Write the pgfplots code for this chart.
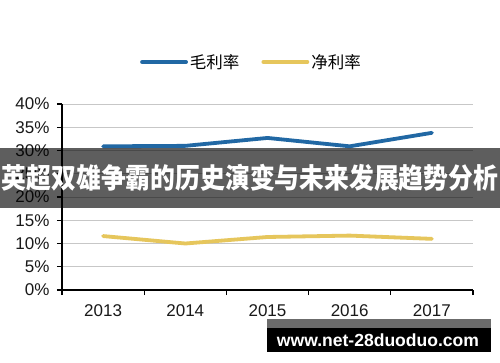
\documentclass[border=0pt]{standalone}
\usepackage{graphicx}
\usepackage{pgfplots}
\pgfplotsset{compat=1.18}
\usepackage{fontspec}
\setmainfont{Liberation Sans}
\newfontfamily\cjk{Noto Sans CJK SC}
\definecolor{gm}{RGB}{33,104,164}
\definecolor{nm}{RGB}{230,198,92}
\begin{document}
\begin{tikzpicture}[x=1pt,y=1pt]
\useasboundingbox (0,0) rectangle (500,362);
\fill[white] (0,0) rectangle (500,362);
\begin{axis}[
  at={(62pt,72pt)}, anchor=south west,
  scale only axis, width=411pt, height=186pt,
  xmin=-0.5, xmax=4.5, ymin=0, ymax=40,
  axis x line*=bottom, axis y line*=left,
  axis line style={line width=1.3pt, black, -},
  xtick={-0.5,0.5,1.5,2.5,3.5,4.5}, x tick label as interval,
  xticklabels={2013,2014,2015,2016,2017},
  ytick={0,5,...,40},
  yticklabels={0\%,5\%,10\%,15\%,20\%,25\%,30\%,35\%,40\%},
  tick align=outside, major tick length=5pt,
  tick style={line width=1.3pt, black},
  ymajorgrids, grid style={line width=1pt, black!22},
  tick label style={font=\fontsize{17}{19}\selectfont, color=black!90},
  xticklabel style={yshift=-6pt},
  yticklabel style={xshift=-4pt},
  legend columns=2,
  legend style={draw=none, fill=none, at={(0.461,1.226)}, anchor=center,
    font=\cjk\fontsize{16.5}{18}\selectfont,
    /tikz/every even column/.append style={column sep=20pt}},
  legend image code/.code={\draw[#1] (0pt,0pt) -- (44pt,0pt);},
]
\addplot[gm, line width=3.8pt, line cap=round] coordinates {(0,30.9)(1,31.0)(2,32.7)(3,30.9)(4,33.8)};
\addlegendentry{毛利率}
\addplot[nm, line width=3.8pt, line cap=round] coordinates {(0,11.6)(1,10.0)(2,11.4)(3,11.7)(4,11.0)};
\addlegendentry{净利率}
\end{axis}
\fill[black, opacity=0.63] (0,154) rectangle (500,214);
\node[white, inner sep=0pt, font=\cjk\bfseries\fontsize{28}{30}\selectfont] at (250,184) {\scalebox{0.886}[1]{英超双雄争霸的历史演变与未来发展趋势分析}};
\fill[black!58] (267,34) rectangle (491,43);
\fill[black] (267,10) rectangle (491,34);
\node[white, inner sep=0pt, font=\bfseries] at (378,22) {\resizebox{202pt}{!}{www.net-28duoduo.com}};
\end{tikzpicture}
\end{document}
